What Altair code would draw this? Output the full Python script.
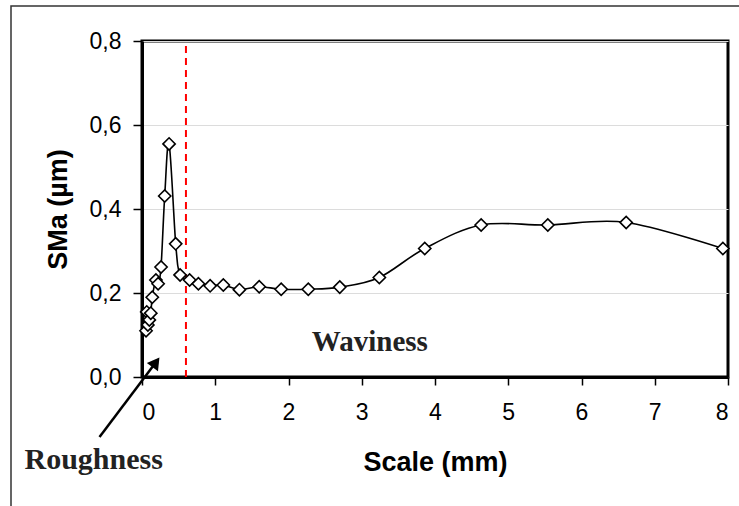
import altair as alt
import pandas as pd

# ---- data ----
scale_mm = [0.055, 0.065, 0.08, 0.10, 0.12, 0.14, 0.19, 0.22, 0.26, 0.31, 0.37,
            0.46, 0.52, 0.65, 0.77, 0.93, 1.11, 1.33, 1.60, 1.90, 2.27, 2.70,
            3.24, 3.86, 4.63, 5.54, 6.61, 7.93]
sma_um = [0.110, 0.155, 0.124, 0.136, 0.152, 0.190, 0.231, 0.222, 0.262, 0.431, 0.555,
          0.317, 0.243, 0.231, 0.222, 0.217, 0.219, 0.208, 0.215, 0.209, 0.209, 0.214,
          0.237, 0.306, 0.362, 0.362, 0.368, 0.306]

x_ticks = [0, 1, 2, 3, 4, 5, 6, 7, 8]
y_ticks = [0.0, 0.2, 0.4, 0.6, 0.8]
limit_scale = [0.6]          # red dashed separation
wav_label = ["Waviness"]
wav_pos = [(3.11, 0.083)]
rough_label = ["Roughness"]
rough_pos = [(-0.66, -0.198)]
arrow_from = [(-0.58, -0.143)]
arrow_to = [(0.19, 0.035)]

df = pd.DataFrame({"scale": scale_mm, "sma": sma_um, "i": list(range(len(scale_mm)))})

W, H = 586, 336
xs = alt.Scale(domain=[0, 8], nice=False, zero=False)
ys = alt.Scale(domain=[0, 0.8], nice=False, zero=False)

FONT = "Liberation Sans"
SERIF = "Liberation Serif"

border = alt.Chart(pd.DataFrame({"k": [0]})).mark_rect(
    fill=None, stroke="#333333", strokeWidth=1.5
).encode(x=alt.value(-131), y=alt.value(-35), x2=alt.value(800), y2=alt.value(700))

vline = alt.Chart(pd.DataFrame({"x": limit_scale, "y0": [0.0], "y1": [0.8]})).mark_rule(
    color="#ff0000", strokeDash=[7, 5], strokeWidth=2
).encode(x=alt.X("x:Q", scale=xs), y=alt.Y("y0:Q", scale=ys), y2="y1:Q")

base = alt.Chart(df).encode(
    x=alt.X("scale:Q", scale=xs,
            axis=alt.Axis(values=x_ticks, format="d", title="Scale (mm)", grid=False,
                          tickSize=8, tickWidth=1.5, tickColor="black",
                          domainColor="black", domainWidth=3,
                          labelFont=FONT, labelFontSize=23, labelColor="black",
                          labelPadding=16, titleFont=FONT, titleFontSize=27,
                          titleFontWeight="bold", titleColor="black", titlePadding=25)),
    y=alt.Y("sma:Q", scale=ys,
            axis=alt.Axis(values=y_ticks, labelExpr="replace(format(datum.value, '.1f'), '.', ',')",
                          title="SMa (µm)", grid=True, gridColor="#dcdcdc", gridWidth=1,
                          tickSize=9, tickWidth=1.5, tickColor="black",
                          domainColor="black", domainWidth=3,
                          labelFont=FONT, labelFontSize=23, labelColor="black",
                          labelPadding=12, titleFont=FONT, titleFontSize=27,
                          titleFontWeight="bold", titleColor="black", titlePadding=17)),
    order="i:Q",
)

line = base.mark_line(color="black", strokeWidth=1.6, interpolate="cardinal")
pts = base.mark_point(shape="diamond", size=150, filled=True, fill="white",
                      stroke="black", strokeWidth=1.6, opacity=1)

wav = alt.Chart(pd.DataFrame({"t": wav_label, "x": [p[0] for p in wav_pos],
                              "y": [p[1] for p in wav_pos]})).mark_text(
    font=SERIF, fontSize=29, fontWeight="bold", color="#222222"
).encode(x=alt.X("x:Q", scale=xs), y=alt.Y("y:Q", scale=ys), text="t:N")

rough = alt.Chart(pd.DataFrame({"t": rough_label, "x": [p[0] for p in rough_pos],
                                "y": [p[1] for p in rough_pos]})).mark_text(
    font=SERIF, fontSize=30, fontWeight="bold", color="#222222"
).encode(x=alt.X("x:Q", scale=xs), y=alt.Y("y:Q", scale=ys), text="t:N")

arr_df = pd.DataFrame({"x0": [arrow_from[0][0]], "y0": [arrow_from[0][1]],
                       "x1": [arrow_to[0][0]], "y1": [arrow_to[0][1]]})
arrow_line = alt.Chart(arr_df).mark_rule(color="black", strokeWidth=2.5).encode(
    x=alt.X("x0:Q", scale=xs), y=alt.Y("y0:Q", scale=ys), x2="x1:Q", y2="y1:Q")
arrow_head = alt.Chart(arr_df).mark_point(shape="triangle-up", size=190, filled=True,
                                          color="black", angle=36, opacity=1).encode(
    x=alt.X("x1:Q", scale=xs), y=alt.Y("y1:Q", scale=ys))

chart = alt.layer(border, vline, line, pts, wav, rough, arrow_line, arrow_head).properties(
    width=W, height=H,
    autosize=alt.AutoSizeParams(type="none"),
    padding={"left": 142, "top": 41, "right": 11, "bottom": 129},
    background="white",
).configure_view(stroke="black", strokeWidth=3)

chart.save("out.html", embed_options={"renderer": "svg", "actions": False})
